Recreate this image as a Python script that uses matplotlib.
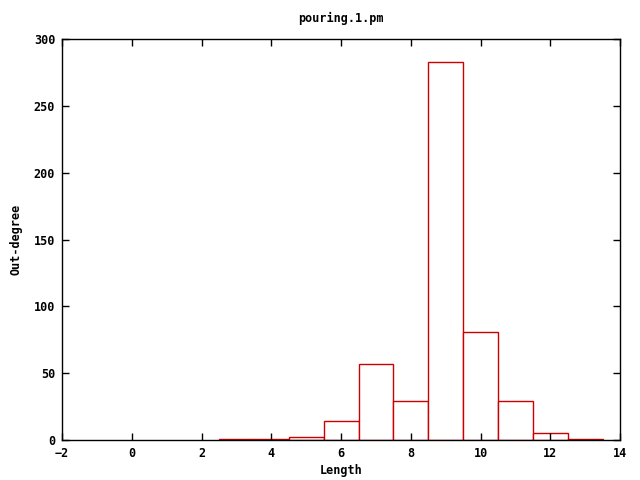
import matplotlib
matplotlib.use('Agg')
import matplotlib.pyplot as plt

# length -> out-degree count
lengths = [3, 4, 5, 6, 7, 8, 9, 10, 11, 12, 13]
counts = [1, 1, 2, 14, 57, 29, 283, 81, 29, 5, 1]

plt.rcParams['font.family'] = 'DejaVu Sans Mono'
plt.rcParams['font.weight'] = 'bold'
plt.rcParams['font.size'] = 8.5

fig = plt.figure(figsize=(6.4, 4.8), dpi=100)
ax = fig.add_axes([0.097, 0.083, 0.872, 0.836])

ax.bar(lengths, counts, width=1.0, facecolor='white', edgecolor='#cc0000', linewidth=1)

ax.set_xlim(-2, 14)
ax.set_ylim(0, 300)
ax.set_xticks(range(-2, 15, 2))
ax.set_yticks(range(0, 301, 50))
ax.tick_params(direction='in', top=True, right=True, length=5, width=1, pad=5)
for s in ax.spines.values():
    s.set_linewidth(1)

ax.set_title('pouring.1.pm', fontsize=8.5, fontweight='bold', pad=12)
ax.set_xlabel('Length', fontweight='bold', labelpad=3)
ax.set_ylabel('Out-degree', fontweight='bold', labelpad=8)

fig.savefig('out.png', dpi=100)
